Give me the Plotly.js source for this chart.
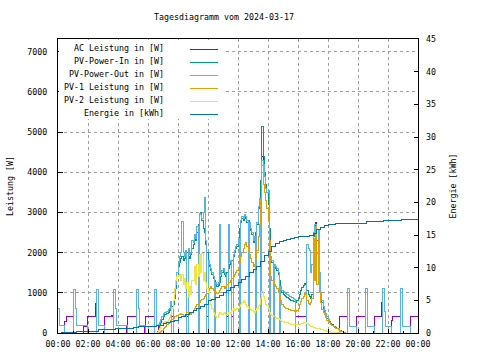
<!DOCTYPE html>
<html><head><meta charset="utf-8">
<script src="https://cdn.plot.ly/plotly-3.0.1.min.js"></script>
<style>html,body{margin:0;padding:0;background:#fff}#chart{width:480px;height:360px}
#chart svg path{shape-rendering:crispEdges}</style>
</head><body><div id="chart"></div>
<script>
// ---- time axis labels ----
const tickMinutes = [0,120,240,360,480,600,720,840,960,1080,1200,1320,1440];
const tickLabels = ["00:00","02:00","04:00","06:00","08:00","10:00","12:00","14:00","16:00","18:00","20:00","22:00","00:00"];
const leftTicks = [0,1000,2000,3000,4000,5000,6000,7000];
const rightTicks = [0,5,10,15,20,25,30,35,40,45];

// ---- series names ----
const seriesNames = ["AC Leistung in [W]","PV-Power-In in [W]","PV-Power-Out in [W]","PV-1 Leistung in [W]","PV-2 Leistung in [W]","Energie in [kWh]"];

// ---- daytime sampling (minutes since midnight, 5 min) ----
const dayTime = [395,400,405,410,415,
420,425,430,435,440,445,450,455,460,465,470,475,
480,485,490,495,500,505,510,515,520,525,530,535,
540,545,550,555,560,565,570,575,580,585,590,595,
600,605,610,615,620,625,630,635,640,645,650,655,
660,665,670,675,680,685,690,695,700,705,710,715,
720,725,730,735,740,745,750,755,760,765,770,775,
780,785,790,795,800,805,810,815,820,825,830,835,
840,845,850,855,860,865,870,875,880,885,890,895,
900,905,910,915,920,925,930,935,940,945,950,955,
960,965,970,975,980,985,990,995,1000,1005,1010,1015,
1020,1025,1030,1035,1040,1045,1050,1055,1060,1065,1070,1075,
1080,1085,1090,1095,1100,1105,1110,1115,1120,1125,1130,1135,
1140,1145,1150];

const pvIn = [30,80,150,250,330,
420,450,460,480,520,560,600,650,720,850,1100,1400,
1650,1750,1850,1900,1800,1850,1950,2000,1900,1850,1950,2100,
2200,2350,2300,2500,2700,2950,3000,2800,2600,2500,2200,2000,
1750,1650,1550,1450,1350,1300,1200,1150,1180,1250,1400,1500,
1550,1450,1400,1500,1600,1700,1750,1800,1900,2000,2100,2150,
2300,2600,2750,2850,2800,2900,2850,2750,2800,2700,2550,2450,
2250,2350,2500,2700,3100,3300,3800,5150,4400,4000,3700,3500,
3200,2600,1850,1750,1700,1650,1600,1550,1450,1300,1100,1000,
950,930,900,880,860,840,820,800,790,780,760,800,
850,950,1050,1120,1180,1220,1200,1050,950,900,850,950,
2400,2600,2690,2300,2450,1300,950,750,600,500,420,350,
330,280,240,200,170,150,130,110,90,70,50,40,
25,20,0];

const pv1 = [0,10,25,45,70,
100,130,160,200,230,260,300,330,370,400,420,440,
450,470,480,460,440,420,450,500,520,480,460,520,
550,600,650,700,720,760,800,830,860,900,950,980,
1050,1100,1150,1100,1050,1000,1000,980,1000,1050,1100,1150,
1150,1100,1150,1200,1250,1250,1300,1350,1400,1450,1500,1550,
1600,1750,1900,2000,2100,2200,2250,2150,2050,1950,1850,1750,
1650,1700,1850,2050,2400,2700,3300,4160,3700,3500,3300,3100,
2800,2300,1400,1300,1250,1200,1150,1100,1000,900,800,720,
650,630,610,600,590,580,570,560,550,540,530,560,
620,700,780,850,920,985,950,800,740,720,750,850,
2350,1300,2650,1200,2300,1000,750,580,500,450,380,320,
310,260,220,180,160,140,120,100,80,60,45,35,
25,20,0];

const pv2 = [20,60,110,180,240,
270,280,260,290,330,380,450,600,800,1100,1300,1400,
1420,1450,1300,1450,1200,1350,1100,1250,900,1150,950,1300,
1300,1650,1200,1700,1400,1950,1500,1980,1300,1500,1250,1100,
1000,850,700,600,520,450,420,380,450,500,480,460,
480,500,470,450,500,520,480,550,600,560,580,600,
620,650,700,750,800,760,700,650,620,600,580,560,
540,520,560,600,680,720,850,1030,900,800,720,680,
600,520,460,430,420,400,380,370,350,330,310,290,
280,270,260,250,240,230,220,215,210,205,200,200,
210,220,235,245,255,257,250,230,200,180,160,150,
140,130,120,115,110,100,90,80,70,60,50,40,
35,30,25,20,15,12,10,8,5,3,0,0,
0,0,0];

const pvOutDay = [175,200,250,330,420,
480,500,520,540,580,620,780,0,800,950,1200,1500,
1750,1900,2000,2780,2000,1900,2050,0,2100,1950,2000,2300,
2250,2450,2350,2650,0,2980,2950,2850,3000,3360,2300,0,
1800,1700,1600,1500,1400,0,1250,1200,1250,2700,1450,1550,
1600,1500,1450,0,2710,1750,1800,0,1950,2050,2150,2200,
2350,0,2800,2900,2850,2950,2900,2800,0,2750,2600,2500,
2300,2400,0,2750,3150,3350,0,4300,4200,3900,3600,3500,
3550,0,1900,1800,0,1700,1650,1600,1500,0,1150,1050,
1030,1000,980,960,940,920,900,880,860,830,0,0,
0,0,0,0,0,0,0,2190,2100,2060,1500,1700,
2500,2690,2700,1980,2550,1500,1000,800,650,550,490,400,
330,250,200,180,160,140,120,115,115,0,0,0,
0,0,0];

const acDay = [0,200,250,330,420,
480,500,520,540,580,620,780,400,800,950,1200,1500,
1750,1900,2000,2780,2000,1900,2050,400,2100,1950,2000,2300,
2250,2450,2350,2650,400,2980,2950,2850,3000,3360,2300,400,
1800,1700,1600,1500,1400,400,1250,1200,1250,2700,1450,1550,
1600,1500,1450,400,2710,1750,1800,400,1950,2050,2150,2200,
2350,500,2800,2900,2850,2950,2900,2800,450,2750,2600,2500,
2300,2400,450,2750,3150,3350,450,4400,4200,3900,3600,3500,
3550,450,1900,1800,450,1700,1650,1600,1500,450,1150,1050,
1030,1000,980,960,940,920,900,880,860,830,406,406,
406,406,406,406,406,406,406,2190,2100,2060,1500,1700,
2500,2690,2750,1980,2550,1500,1000,800,650,550,490,400,
330,250,200,180,160,140,120,115,115,400,400,400,
400,400,400];

// ---- night standby events (minutes, W) ----
const pvOutMorningTime = [0,4,27,63,71,75,117,152,160,163,185,220,228,232,276,312,320,324,349,384,392];
const pvOutMorning     = [620,180,0,1095,600,175,0,1095,560,175,0,1095,600,175,0,1095,620,175,0,1095,175];
const pvOutEveningTime = [1159,1166,1194,1230,1238,1266,1299,1307,1310,1334,1369,1378,1409,1440];
const pvOutEvening     = [1110,160,0,1110,160,0,1110,530,160,0,1110,160,0,0];

const acMorningTime = [0,27,32,63,101,117,148,152,184,213,218,220,272,277,312,345,349,384];
const acMorning     = [0,280,400,0,155,400,746,0,400,430,400,0,150,400,0,150,400,0];
const acEveningTime = [1159,1194,1230,1266,1295,1299,1334,1337,1369,1409,1440];
const acEvening     = [0,400,0,400,750,0,300,400,0,400,400];

// ---- energy (minutes, kWh) ----
const energyTime = [0,12,72,160,228,300,322,392,405,420,435,450,465,480,495,510,525,540,555,570,585,600,615,630,645,660,675,690,705,720,735,750,765,780,795,810,825,840,855,870,885,900,915,930,945,960,975,990,1005,1020,1035,1050,1065,1080,1095,1110,1125,1233,1302,1372,1440];
const energy     = [0,0.05,0.3,0.46,0.68,0.82,0.97,1.12,1.2,1.4,1.55,1.75,1.95,2.3,2.6,2.9,3.15,3.5,3.8,4.1,4.4,4.9,5.2,5.5,5.8,6.2,6.55,6.9,7.3,7.7,8.2,8.7,9.2,9.7,10.2,10.9,11.9,12.5,13.2,13.7,14.0,14.2,14.35,14.5,14.6,14.7,14.75,14.8,14.9,15.2,15.8,16.2,16.45,16.55,16.65,16.75,16.8,17.05,17.25,17.4,17.45];

const colors = ["#9400d3","#009e73","#56b4e9","#e69f00","#f0e442","#0072b2"];
const FONT = "DejaVu Sans Mono";

const acX = acMorningTime.concat(dayTime, acEveningTime);
const acY = acMorning.concat(acDay, acEvening);
const outX = pvOutMorningTime.concat(dayTime, pvOutEveningTime);
const outY = pvOutMorning.concat(pvOutDay, pvOutEvening);

function tr(x, y, i, axis) {
  return {x: x, y: y, type: 'scatter', mode: 'lines', name: seriesNames[i],
    line: {color: colors[i], width: 1, shape: 'hv'}, yaxis: axis || 'y',
    showlegend: false, hoverinfo: 'skip'};
}
const traces = [
  tr(acX, acY, 0),
  tr(dayTime, pvIn, 1),
  tr(outX, outY, 2),
  tr(dayTime, pv1, 3),
  tr(dayTime, pv2, 4),
  tr(energyTime, energy, 5, 'y2')
];

// ---- key (gnuplot style: text right, sample line on the right) ----
const PL = 58, PR = 418, PT = 39, PB = 333;
const px = v => (v - PL) / (PR - PL);
const py = v => (PB - v) / (PB - PT);
const rowY = [49.3, 62.3, 75.3, 88.3, 101.3, 114.3];
const shapes = [{type:'rect', xref:'paper', yref:'paper', x0: px(59), x1: px(224), y0: py(119), y1: py(40),
  fillcolor:'#ffffff', line:{width:0}, layer:'above'}];
const annotations = [];
seriesNames.forEach((n, i) => {
  shapes.push({type:'line', xref:'paper', yref:'paper', x0: px(190), x1: px(218), y0: py(rowY[i]), y1: py(rowY[i]),
    line:{color: colors[i], width: 1}, layer:'above'});
  annotations.push({xref:'paper', yref:'paper', x: px(166), y: py(rowY[i] - 1.5), xanchor:'right', yanchor:'middle',
    text: n, showarrow:false, font:{family: FONT, size: 8.3, color:'#000'}});
});

const layout = {
  width: 480, height: 360,
  margin: {l: PL, r: 480 - PR, t: PT, b: 360 - PB, pad: 0},
  paper_bgcolor: '#fff', plot_bgcolor: '#fff',
  font: {family: FONT, size: 8.3, color: '#000'},
  title: {text: 'Tagesdiagramm vom 2024-03-17', xref: 'container', yref: 'container', x: 224/480, y: 1 - 17/360,
    xanchor: 'center', yanchor: 'middle', font: {family: FONT, size: 8.3, color: '#000'}},
  xaxis: {range: [0, 1440], tickmode: 'array', tickvals: tickMinutes, ticktext: tickLabels,
    ticks: 'inside', ticklen: 4, tickcolor: '#000', showline: true, linecolor: '#000', linewidth: 1, mirror: true,
    showgrid: true, gridcolor: '#a0a0a0', griddash: '3px,3px', gridwidth: 1, zeroline: false,
    ticklabelstandoff: 3,
    minor: {tickmode: 'array', tickvals: [60,180,300,420,540,660,780,900,1020,1140,1260,1380], ticks: 'inside', ticklen: 2, tickcolor: '#000', showgrid: false}},
  yaxis: {range: [0, 7316], tickmode: 'array', tickvals: leftTicks, ticks: 'inside', ticklen: 5, tickcolor: '#000',
    showline: true, linecolor: '#000', linewidth: 1, mirror: true,
    showgrid: true, gridcolor: '#a0a0a0', griddash: '3px,3px', gridwidth: 1, zeroline: false,
    ticklabelstandoff: 8,
    title: {text: 'Leistung [W]', standoff: 12, font: {family: FONT, size: 8.3, color: '#000'}}},
  yaxis2: {range: [0, 45], overlaying: 'y', side: 'right', tickmode: 'array', tickvals: rightTicks,
    ticks: 'inside', ticklen: 4, tickcolor: '#000', showgrid: false, zeroline: false, showline: false,
    ticklabelstandoff: 7,
    title: {text: 'Energie [kWh]', standoff: 15, font: {family: FONT, size: 8.3, color: '#000'}}},
  shapes: shapes,
  annotations: annotations,
  showlegend: false
};
Plotly.newPlot('chart', traces, layout, {staticPlot: true, displayModeBar: false});
</script></body></html>
